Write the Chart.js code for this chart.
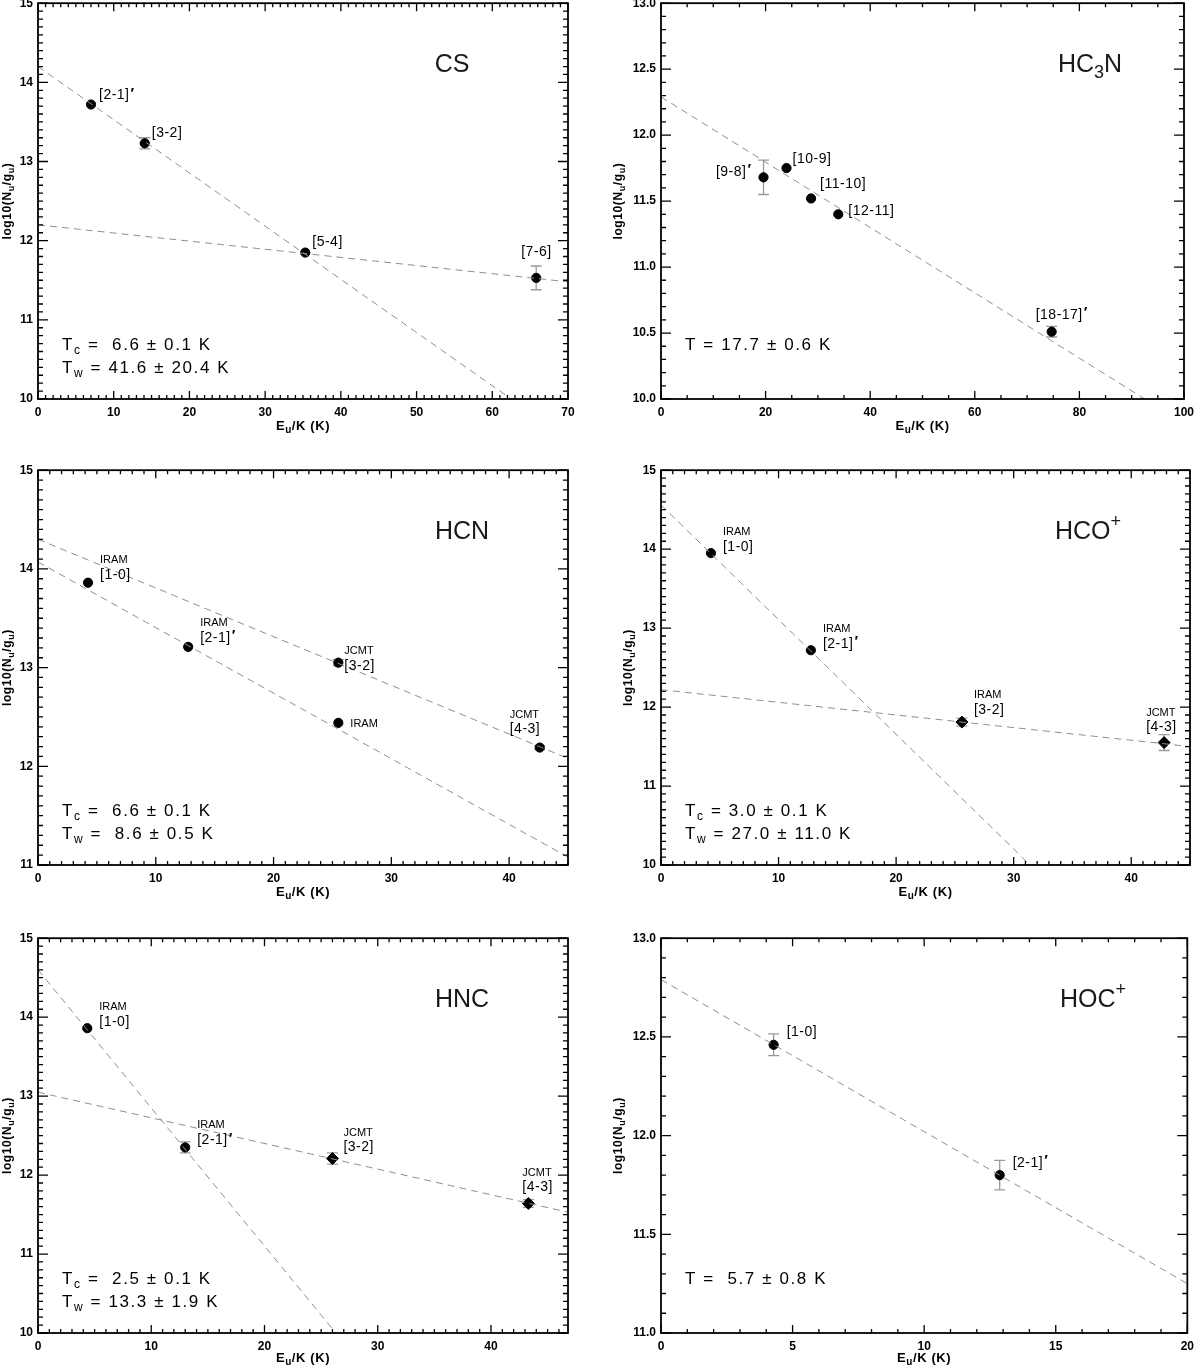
<!DOCTYPE html>
<html>
<head>
<meta charset="utf-8">
<title>Rotation diagrams</title>
<script src="https://cdn.jsdelivr.net/npm/chart.js@4.4.1/dist/chart.umd.min.js"></script>
<style>
  html, body { margin: 0; padding: 0; background: #fff; }
  body { position: relative; width: 1200px; height: 1366px; overflow: hidden; }
  .panel { position: absolute; }
</style>
</head>
<body>
<script>
// values: upper-level energy (K) and log10(Nu/gu)

// CS
const csEnergy = [7.0, 14.1, 35.3, 65.8];
const csLogN = [13.72, 13.23, 11.85, 11.53];
const csErr = [0, 0.07, 0, 0.15];
const csLines = ['[2-1]′', '[3-2]', '[5-4]', '[7-6]'];
const csFitCold = [[0, 14.2], [62.5, 10.0]];
const csFitWarm = [[0, 12.2], [70, 11.48]];

// HC3N
const hc3nEnergy = [19.6, 24.0, 28.7, 33.9, 74.7];
const hc3nLogN = [11.68, 11.75, 11.52, 11.40, 10.51];
const hc3nErr = [0.13, 0, 0, 0, 0.04];
const hc3nLines = ['[9-8]′', '[10-9]', '[11-10]', '[12-11]', '[18-17]′'];
const hc3nFit = [[0, 12.29], [92.5, 10.0]];

// HCN
const hcnEnergy = [4.25, 12.75, 25.5, 25.5, 42.6];
const hcnLogN = [13.86, 13.21, 13.05, 12.44, 12.19];
const hcnErr = [0, 0, 0.03, 0, 0.02];
const hcnTelescope = ['IRAM', 'IRAM', 'JCMT', 'IRAM', 'JCMT'];
const hcnLines = ['[1-0]', '[2-1]′', '[3-2]', '', '[4-3]'];
const hcnFitCold = [[0, 14.07], [45, 11.08]];
const hcnFitWarm = [[0, 14.30], [45, 12.08]];

// HCO+
const hcoEnergy = [4.25, 12.75, 25.6, 42.8];
const hcoLogN = [13.95, 12.72, 11.81, 11.55];
const hcoErr = [0, 0, 0.05, 0.1];
const hcoTelescope = ['IRAM', 'IRAM', 'IRAM', 'JCMT'];
const hcoLines = ['[1-0]', '[2-1]′', '[3-2]', '[4-3]'];
const hcoFitCold = [[0, 14.56], [31.4, 10.0]];
const hcoFitWarm = [[0, 12.22], [45, 11.5]];

// HNC
const hncEnergy = [4.35, 13.0, 26.0, 43.3];
const hncLogN = [13.86, 12.35, 12.21, 11.64];
const hncErr = [0, 0.07, 0.07, 0.05];
const hncTelescope = ['IRAM', 'IRAM', 'JCMT', 'JCMT'];
const hncLines = ['[1-0]', '[2-1]′', '[3-2]', '[4-3]'];
const hncFitCold = [[0, 14.6], [26.3, 10.0]];
const hncFitWarm = [[0, 13.05], [46.8, 11.53]];

// HOC+
const hocEnergy = [4.28, 12.87];
const hocLogN = [12.46, 11.80];
const hocErr = [0.055, 0.075];
const hocLines = ['[1-0]', '[2-1]′'];
const hocFit = [[0, 12.79], [20, 11.25]];

const FONT = '"Liberation Sans", Arial, Helvetica, sans-serif';
const rows = [[1, 399], [468, 865], [936, 1333]];

const panels = [
  { id: 'cs', row: 0, col: 0, name: 'CS', nameX: 414,
    x: csEnergy, y: csLogN, err: csErr, tel: null, lines: csLines,
    fits: [csFitCold, csFitWarm], shapes: ['circle', 'circle', 'circle', 'circle'],
    labelPos: [[8, -9, 'left'], [7, -10, 'left'], [7, -10, 'left'], [-15, -26, 'left']],
    xMax: 70, xMajor: 10, xMinor: 1, yMin: 10, yMax: 15, yMajor: 1, yMinor: 0.1, yDec: 0, yTitleX: 8,
    notes: ['T_c =  6.6 ± 0.1 K', 'T_w = 41.6 ± 20.4 K'] },
  { id: 'hc3n', row: 0, col: 1, name: 'HC_3N', nameX: 429,
    x: hc3nEnergy, y: hc3nLogN, err: hc3nErr, tel: null, lines: hc3nLines,
    fits: [hc3nFit], shapes: ['circle', 'circle', 'circle', 'circle', 'circle'],
    labelPos: [[-13, -5, 'right'], [6, -9, 'left'], [9, -14, 'left'], [10, -3, 'left'], [-16, -17, 'left']],
    xMax: 100, xMajor: 20, xMinor: 5, yMin: 10, yMax: 13, yMajor: 0.5, yMinor: 0.1, yDec: 1, yTitleX: 19,
    notes: ['T = 17.7 ± 0.6 K'] },
  { id: 'hcn', row: 1, col: 0, name: 'HCN', nameX: 424,
    x: hcnEnergy, y: hcnLogN, err: hcnErr, tel: hcnTelescope, lines: hcnLines,
    fits: [hcnFitCold, hcnFitWarm], shapes: ['circle', 'circle', 'circle', 'circle', 'circle'],
    labelPos: [[12, -8, 'left'], [12, -9, 'left'], [6, 3, 'left'], [12, 1, 'left'], [-30, -18, 'left']],
    xMax: 45, xMajor: 10, xMinor: 1, yMin: 11, yMax: 15, yMajor: 1, yMinor: 0.1, yDec: 0, yTitleX: 8,
    notes: ['T_c =  6.6 ± 0.1 K', 'T_w =  8.6 ± 0.5 K'] },
  { id: 'hco', row: 1, col: 1, name: 'HCO^+', nameX: 427,
    x: hcoEnergy, y: hcoLogN, err: hcoErr, tel: hcoTelescope, lines: hcoLines,
    fits: [hcoFitCold, hcoFitWarm], shapes: ['circle', 'circle', 'rectRot', 'rectRot'],
    labelPos: [[12, -6, 'left'], [12, -6, 'left'], [12, -12, 'left'], [-18, -15, 'left']],
    xMax: 45, xMajor: 10, xMinor: 1, yMin: 10, yMax: 15, yMajor: 1, yMinor: 0.1, yDec: 0, yTitleX: 29,
    notes: ['T_c = 3.0 ± 0.1 K', 'T_w = 27.0 ± 11.0 K'] },
  { id: 'hnc', row: 2, col: 0, name: 'HNC', nameX: 424,
    x: hncEnergy, y: hncLogN, err: hncErr, tel: hncTelescope, lines: hncLines,
    fits: [hncFitCold, hncFitWarm], shapes: ['circle', 'circle', 'rectRot', 'rectRot'],
    labelPos: [[12, -6, 'left'], [12, -7, 'left'], [11, -11, 'left'], [-6, -16, 'left']],
    xMax: 46.8, xMajor: 10, xMinor: 1, yMin: 10, yMax: 15, yMajor: 1, yMinor: 0.1, yDec: 0, yTitleX: 8,
    notes: ['T_c =  2.5 ± 0.1 K', 'T_w = 13.3 ± 1.9 K'] },
  { id: 'hoc', row: 2, col: 1, name: 'HOC^+', nameX: 432,
    x: hocEnergy, y: hocLogN, err: hocErr, tel: null, lines: hocLines,
    fits: [hocFit], shapes: ['circle', 'circle'],
    labelPos: [[13, -13, 'left'], [13, -12, 'left']],
    xMax: 20, xMajor: 5, xMinor: 1, yMin: 11, yMax: 13, yMajor: 0.5, yMinor: 0.1, yDec: 1, yTitleX: 19,
    notes: ['T =  5.7 ± 0.8 K'] }
];
const panelById = {};
panels.forEach(p => { panelById[p.id] = p; });

// text with _x (subscript) and ^x (superscript) markers
function parseRich(str) {
  const parts = [];
  let buf = '';
  for (let i = 0; i < str.length; i++) {
    const ch = str[i];
    if ((ch === '_' || ch === '^') && i + 1 < str.length) {
      if (buf) parts.push({ t: buf, m: '' });
      buf = '';
      parts.push({ t: str[i + 1], m: ch === '_' ? 'sub' : 'sup' });
      i++;
    } else {
      buf += ch;
    }
  }
  if (buf) parts.push({ t: buf, m: '' });
  return parts;
}

function drawRich(ctx, str, x, y, opt) {
  const size = opt.size;
  const small = Math.round(size * (opt.subScale || 0.7));
  const weight = opt.weight || 'normal';
  const parts = parseRich(str);
  ctx.save();
  ctx.translate(x, y);
  if (opt.rotate) ctx.rotate(opt.rotate);
  ctx.letterSpacing = (opt.spacing || 0) + 'px';
  ctx.textBaseline = 'middle';
  ctx.textAlign = 'left';
  ctx.fillStyle = opt.color || '#000';
  const fontFor = p => weight + ' ' + (p.m ? small : size) + 'px ' + FONT;
  let total = 0;
  parts.forEach(p => {
    ctx.font = fontFor(p);
    p.w = ctx.measureText(p.t).width;
    total += p.w;
  });
  let cx = opt.align === 'center' ? -total / 2 : opt.align === 'right' ? -total : 0;
  parts.forEach(p => {
    ctx.font = fontFor(p);
    const dy = p.m === 'sub' ? size * 0.32 : p.m === 'sup' ? -size * 0.42 : 0;
    ctx.fillText(p.t, cx, dy);
    cx += p.w;
  });
  ctx.restore();
}

function drawTransition(ctx, s, x, y, align) {
  const prime = s.endsWith('′');
  const base = prime ? s.slice(0, -1) : s;
  ctx.letterSpacing = '0.5px';
  ctx.font = '14px ' + FONT;
  const w = ctx.measureText(base).width;
  ctx.font = 'bold 15px ' + FONT;
  const pw = prime ? ctx.measureText('′').width : 0;
  let sx = x;
  if (align === 'center') sx = x - (w + pw) / 2;
  if (align === 'right') sx = x - w - pw;
  ctx.textAlign = 'left';
  ctx.font = '14px ' + FONT;
  ctx.fillText(base, sx, y);
  if (prime) {
    ctx.font = 'bold 15px ' + FONT;
    ctx.fillText('′', sx + w + 1, y - 2);
  }
  ctx.letterSpacing = '0px';
}

function tickSteps(min, max, minor, major) {
  const out = [];
  const n = Math.round((max - min) / minor);
  for (let i = 0; i <= n; i++) {
    const v = min + i * minor;
    if (v > max + 1e-9) break;
    const r = v / major;
    out.push([v, Math.abs(r - Math.round(r)) < 1e-6]);
  }
  return out;
}

// IDL-style frame: inward major/minor ticks on all four sides, plus error bars and annotations
const idlFrame = {
  id: 'idlFrame',
  beforeDatasetsDraw(chart) {
    const p = panelById[chart.canvas.id];
    const { ctx, scales: { x, y } } = chart;
    ctx.save();
    ctx.strokeStyle = '#9a9a9a';
    ctx.lineWidth = 1.3;
    p.x.forEach((xv, i) => {
      const e = p.err[i];
      if (!e) return;
      const px = x.getPixelForValue(xv);
      const y1 = y.getPixelForValue(p.y[i] - e);
      const y2 = y.getPixelForValue(p.y[i] + e);
      ctx.beginPath();
      ctx.moveTo(px, y1); ctx.lineTo(px, y2);
      ctx.moveTo(px - 5.5, y1); ctx.lineTo(px + 5.5, y1);
      ctx.moveTo(px - 5.5, y2); ctx.lineTo(px + 5.5, y2);
      ctx.stroke();
    });
    ctx.restore();
  },
  afterDraw(chart) {
    const p = panelById[chart.canvas.id];
    const { ctx, scales: { x, y } } = chart;
    const { left, right, top, bottom } = chart.chartArea;
    ctx.save();

    ctx.strokeStyle = '#000';
    ctx.lineWidth = 1.8;
    ctx.strokeRect(left, top, right - left, bottom - top);

    ctx.lineWidth = 1.3;
    ctx.beginPath();
    tickSteps(0, p.xMax, p.xMinor, p.xMajor).forEach(([v, major]) => {
      const px = x.getPixelForValue(v);
      const len = major ? 8 : 4;
      ctx.moveTo(px, bottom); ctx.lineTo(px, bottom - len);
      ctx.moveTo(px, top); ctx.lineTo(px, top + len);
    });
    tickSteps(p.yMin, p.yMax, p.yMinor, p.yMajor).forEach(([v, major]) => {
      const py = y.getPixelForValue(v);
      const len = major ? 10 : 5;
      ctx.moveTo(left, py); ctx.lineTo(left + len, py);
      ctx.moveTo(right, py); ctx.lineTo(right - len, py);
    });
    ctx.stroke();

    // axis titles
    drawRich(ctx, 'E_u/K (K)', (left + right) / 2, bottom + (p.row === 2 ? 25 : 27),
      { size: 13, weight: 'bold', align: 'center', spacing: 0.6, subScale: 0.75 });
    drawRich(ctx, 'log10(N_u/g_u)', p.yTitleX, (top + bottom) / 2,
      { size: 12, weight: 'bold', align: 'center', spacing: 0.6, rotate: -Math.PI / 2, subScale: 0.75 });

    // molecule name
    drawRich(ctx, p.name, left + p.nameX, top + 62,
      { size: 25, align: 'center', color: '#1a1a1a', subScale: 0.72 });

    // temperatures
    p.notes.forEach((t, i) => {
      drawRich(ctx, t, left + 24, bottom - 54 + i * 23, { size: 17, spacing: 1.6, subScale: 0.68 });
    });

    // point labels
    const meta = chart.getDatasetMeta(chart.data.datasets.length - 1);
    ctx.fillStyle = '#000';
    ctx.textBaseline = 'middle';
    p.x.forEach((xv, i) => {
      const el = meta.data[i];
      const [dx, dy, align] = p.labelPos[i];
      const tx = el.x + dx;
      const line = p.lines[i];
      const tel = p.tel ? p.tel[i] : '';
      if (line) {
        drawTransition(ctx, line, tx, el.y + dy, align);
        if (tel) {
          ctx.font = '11px ' + FONT;
          ctx.textAlign = align;
          ctx.fillText(tel, tx, el.y + dy - 15);
        }
      } else if (tel) {
        ctx.font = '11px ' + FONT;
        ctx.textAlign = align;
        ctx.fillText(tel, tx, el.y + dy);
      }
    });
    ctx.restore();
  }
};

panels.forEach(p => {
  const [rowTop, rowBottom] = rows[p.row];
  const h = rowBottom - rowTop + 48;
  const wrap = document.createElement('div');
  wrap.className = 'panel';
  wrap.style.left = (p.col ? 600 : 0) + 'px';
  wrap.style.top = (rowTop - 10) + 'px';
  const canvas = document.createElement('canvas');
  canvas.id = p.id;
  canvas.width = 600;
  canvas.height = h;
  canvas.style.width = '600px';
  canvas.style.height = h + 'px';
  wrap.appendChild(canvas);
  document.body.appendChild(wrap);

  const datasets = p.fits.map(f => ({
    data: f.map(([fx, fy]) => ({ x: fx, y: fy })),
    showLine: true,
    borderColor: '#8f8f8f',
    borderWidth: 1,
    borderDash: [7, 5],
    pointRadius: 0,
    fill: false
  }));
  datasets.push({
    data: p.x.map((xv, i) => ({ x: xv, y: p.y[i] })),
    pointStyle: p.shapes,
    pointRadius: p.shapes.map(s => (s === 'rectRot' ? 6 : 4.6)),
    pointBackgroundColor: '#000',
    pointBorderColor: '#000',
    pointBorderWidth: 1,
    showLine: false
  });

  const tickFont = { family: FONT, size: 12, weight: 'bold' };
  new Chart(canvas.getContext('2d'), {
    type: 'scatter',
    data: { datasets },
    plugins: [idlFrame],
    options: {
      responsive: false,
      animation: false,
      events: [],
      layout: { padding: { top: 10, bottom: 4, left: 0, right: p.col ? 10 : 32 } },
      plugins: { legend: { display: false }, tooltip: { enabled: false } },
      scales: {
        x: {
          type: 'linear', min: 0, max: p.xMax,
          afterFit(s) { s.height = 34; },
          grid: { display: false, drawTicks: false },
          border: { display: false },
          ticks: { stepSize: p.xMajor, includeBounds: false, padding: 6, maxRotation: 0,
                   autoSkip: false, color: '#000', font: tickFont }
        },
        y: {
          type: 'linear', min: p.yMin, max: p.yMax,
          afterFit(s) { s.width = p.col ? 61 : 38; },
          grid: { display: false, drawTicks: false },
          border: { display: false },
          ticks: { stepSize: p.yMajor, padding: 5, autoSkip: false, color: '#000', font: tickFont,
                   callback: v => v.toFixed(p.yDec) }
        }
      }
    }
  });
});
</script>
</body>
</html>
